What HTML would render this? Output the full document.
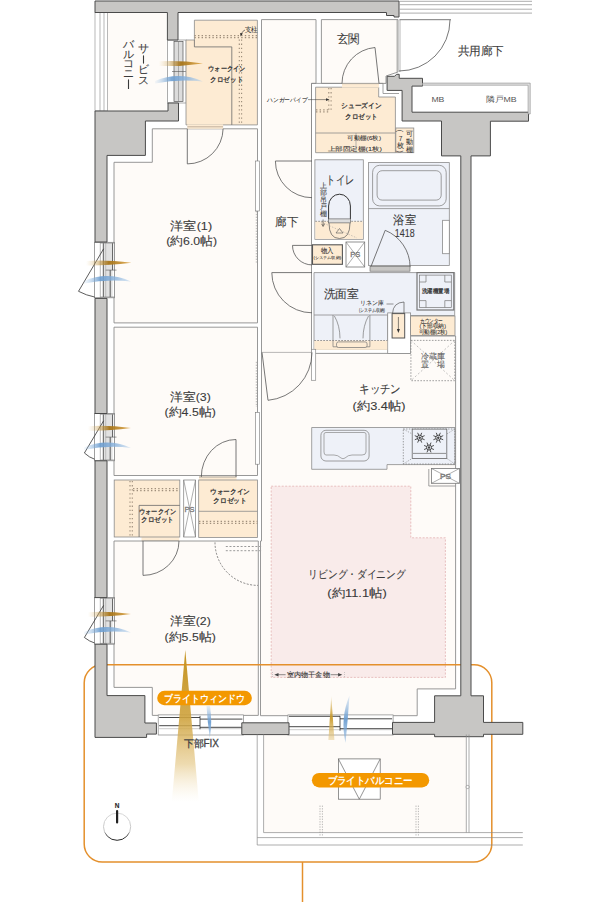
<!DOCTYPE html>
<html lang="ja">
<head>
<meta charset="utf-8">
<style>
html,body{margin:0;padding:0;background:#fff;}
body{width:610px;height:902px;overflow:hidden;font-family:"Liberation Sans",sans-serif;}
svg{display:block;}
text{font-family:"Liberation Sans",sans-serif;}
</style>
</head>
<body>
<svg width="610" height="902" viewBox="0 0 610 902">
<defs>
  <linearGradient id="beamV" x1="0" y1="0" x2="0" y2="1">
    <stop offset="0" stop-color="#c4921f" stop-opacity="1"/>
    <stop offset="0.45" stop-color="#cfa33e" stop-opacity="0.9"/>
    <stop offset="0.75" stop-color="#e2c27a" stop-opacity="0.6"/>
    <stop offset="1" stop-color="#f6e8c8" stop-opacity="0"/>
  </linearGradient>
  <linearGradient id="beamS" x1="0" y1="0" x2="0" y2="1">
    <stop offset="0" stop-color="#d0a63f" stop-opacity="0.2"/>
    <stop offset="0.5" stop-color="#c99a2a" stop-opacity="0.95"/>
    <stop offset="1" stop-color="#e5c886" stop-opacity="0.5"/>
  </linearGradient>
  <linearGradient id="windBV" x1="0" y1="0" x2="0" y2="1">
    <stop offset="0" stop-color="#a9c8e8" stop-opacity="0.3"/>
    <stop offset="0.5" stop-color="#6b9dd0" stop-opacity="0.95"/>
    <stop offset="1" stop-color="#8db5de" stop-opacity="0.5"/>
  </linearGradient>
  <linearGradient id="windG" x1="0" y1="0" x2="1" y2="0">
    <stop offset="0" stop-color="#e9c98a" stop-opacity="0"/>
    <stop offset="0.5" stop-color="#a67418" stop-opacity="0.95"/>
    <stop offset="1" stop-color="#e0a84a" stop-opacity="0.9"/>
  </linearGradient>
  <linearGradient id="windB" x1="0" y1="0" x2="1" y2="0">
    <stop offset="0" stop-color="#9fc3e6" stop-opacity="0.1"/>
    <stop offset="0.35" stop-color="#6b9dd0" stop-opacity="0.9"/>
    <stop offset="0.7" stop-color="#8db5de" stop-opacity="0.8"/>
    <stop offset="1" stop-color="#b9d3ec" stop-opacity="0.5"/>
  </linearGradient>
  <linearGradient id="compass" x1="0" y1="0" x2="0" y2="1">
    <stop offset="0" stop-color="#d8d8d8"/>
    <stop offset="0.68" stop-color="#c4c4c4"/>
    <stop offset="0.8" stop-color="#555"/>
    <stop offset="1" stop-color="#222"/>
  </linearGradient>
</defs>

<!-- ============ FLOORS ============ -->
<g id="floors" fill="#fefbf8" stroke="#8c8c8c" stroke-width="0.9">
  <rect x="107.5" y="13" width="59" height="98" stroke="none"/>
  <polygon points="152.3,128.8 257.5,128.8 257.5,322.9 114,322.9 114,162.3 152.3,162.3"/>
  <polygon points="114,327.2 257.5,327.2 257.5,475.5 114,475.5"/>
  <polygon points="114,541 258.3,541 258.3,715.4 152.3,715.4 152.3,687.4 114,687.4"/>
  <polygon points="261.5,19.6 316,19.6 316,83.4 311.5,83.4 311.5,353.4 410.6,353.4 410.6,336 455.6,336 455.6,688.9 417.2,688.9 417.2,715.7 260.5,715.7 260.5,541 261.5,541"/>
  <polygon points="321.4,19.6 398,19.6 398,72 386,76 386,83.4 321.4,83.4"/>
  <!-- balcony floor -->
  <rect x="264" y="734.5" width="202" height="98" fill="#fefbf8" stroke="none"/>
</g>


<g stroke-width="0.8">
  <polygon points="271.2,486.2 410.8,486.2 410.8,537.8 445.4,537.8 445.4,677.4 271.2,677.4" fill="#f9ebea" stroke="#e3b3b3" stroke-dasharray="2 1.5"/>
</g>
<!-- ============ ORANGE OUTLINE ============ -->
<g fill="none" stroke="#e4902c" stroke-width="1.5">
  <path d="M102.5,664.8 H474 A17.8,17.8 0 0 1 491.8,682.6 V844 A18,18 0 0 1 473.8,862 H102.2 A18,18 0 0 1 84.2,844 V682.8 A18,18 0 0 1 102.5,664.8 Z"/>
  <line x1="302.5" y1="862" x2="302.5" y2="902"/>
</g>

<!-- ============ WINDOWS ============ -->
<g id="windows">
  <g>
    <rect x="94.6" y="242.3" width="20" height="55.5" fill="#fff" stroke="#777" stroke-width="0.7"/>
    <rect x="103.4" y="243.1" width="9.2" height="53.9" fill="#e2e2e2" stroke="none"/>
    <line x1="100.3" y1="242.3" x2="100.3" y2="297.8" stroke="#888" stroke-width="0.6"/>
    <line x1="103.3" y1="243.1" x2="103.3" y2="297.0" stroke="#333" stroke-width="0.8"/>
    <line x1="105.7" y1="243.1" x2="105.7" y2="297.0" stroke="#999" stroke-width="0.5"/>
    <line x1="112.6" y1="243.1" x2="112.6" y2="270.1" stroke="#333" stroke-width="0.8"/>
    <line x1="110.2" y1="270.1" x2="110.2" y2="297.0" stroke="#333" stroke-width="0.8"/>
    <line x1="105.7" y1="270.1" x2="116.5" y2="270.1" stroke="#555" stroke-width="0.6"/>
    <line x1="100.3" y1="243.1" x2="114.6" y2="243.1" stroke="#777" stroke-width="0.6"/>
    <line x1="100.3" y1="297.0" x2="114.6" y2="297.0" stroke="#777" stroke-width="0.6"/>
    <path d="M103.6,248.8 L78.5,291.3 Q86.5,295.5 94.6,297" fill="none" stroke="#333" stroke-width="0.8"/>
  </g>
  <g>
    <rect x="94.6" y="413.5" width="20" height="47.3" fill="#fff" stroke="#777" stroke-width="0.7"/>
    <rect x="103.4" y="414.3" width="9.2" height="45.7" fill="#e2e2e2" stroke="none"/>
    <line x1="100.3" y1="413.5" x2="100.3" y2="460.8" stroke="#888" stroke-width="0.6"/>
    <line x1="103.3" y1="414.3" x2="103.3" y2="460.0" stroke="#333" stroke-width="0.8"/>
    <line x1="105.7" y1="414.3" x2="105.7" y2="460.0" stroke="#999" stroke-width="0.5"/>
    <line x1="112.6" y1="414.3" x2="112.6" y2="437.1" stroke="#333" stroke-width="0.8"/>
    <line x1="110.2" y1="437.1" x2="110.2" y2="460.0" stroke="#333" stroke-width="0.8"/>
    <line x1="105.7" y1="437.1" x2="116.5" y2="437.1" stroke="#555" stroke-width="0.6"/>
    <line x1="100.3" y1="414.3" x2="114.6" y2="414.3" stroke="#777" stroke-width="0.6"/>
    <line x1="100.3" y1="460.0" x2="114.6" y2="460.0" stroke="#777" stroke-width="0.6"/>
    <path d="M103.6,420.8 L84.4,453 Q89.5,457.7 94.6,459.2" fill="none" stroke="#333" stroke-width="0.8"/>
  </g>
  <g>
    <rect x="94.6" y="597.6" width="20" height="46.6" fill="#fff" stroke="#777" stroke-width="0.7"/>
    <rect x="103.4" y="598.4" width="9.2" height="45.0" fill="#e2e2e2" stroke="none"/>
    <line x1="100.3" y1="597.6" x2="100.3" y2="644.2" stroke="#888" stroke-width="0.6"/>
    <line x1="103.3" y1="598.4" x2="103.3" y2="643.4" stroke="#333" stroke-width="0.8"/>
    <line x1="105.7" y1="598.4" x2="105.7" y2="643.4" stroke="#999" stroke-width="0.5"/>
    <line x1="112.6" y1="598.4" x2="112.6" y2="620.9" stroke="#333" stroke-width="0.8"/>
    <line x1="110.2" y1="620.9" x2="110.2" y2="643.4" stroke="#333" stroke-width="0.8"/>
    <line x1="105.7" y1="620.9" x2="116.5" y2="620.9" stroke="#555" stroke-width="0.6"/>
    <line x1="100.3" y1="598.4" x2="114.6" y2="598.4" stroke="#777" stroke-width="0.6"/>
    <line x1="100.3" y1="643.4" x2="114.6" y2="643.4" stroke="#777" stroke-width="0.6"/>
    <path d="M103.6,605.4 L84.4,637.5 Q89.5,641.5 94.6,643" fill="none" stroke="#333" stroke-width="0.8"/>
  </g>
  <!-- service balcony rail (left) -->
  <g stroke="#9a9a9a" stroke-width="0.7" fill="none">
    <rect x="95" y="12.5" width="12.5" height="98.5" fill="#fff"/>
    <line x1="100" y1="12.5" x2="100" y2="111"/>
    <line x1="104" y1="12.5" x2="104" y2="111"/>
  </g>
  <!-- service balcony window -->
  <rect x="167.4" y="40" width="18.8" height="63" fill="#fff" stroke="#8a8a8a" stroke-width="0.7"/>
  <rect x="174" y="41.5" width="9" height="60" fill="#dcdcdc" stroke="#555" stroke-width="0.7"/>
  <line x1="178.5" y1="41.5" x2="178.5" y2="101.5" stroke="#777" stroke-width="0.5"/>
  <line x1="172" y1="71.5" x2="186" y2="71.5" stroke="#555" stroke-width="0.6"/>
  <!-- bottom windows -->
  <g>
    <rect x="158.2" y="714.9" width="85.2" height="20.1" fill="#fff" stroke="#888" stroke-width="0.7"/>
    <path d="M159.2,717.5 H200 M159.2,725.7 H200" stroke="#333" stroke-width="0.9"/>
    <path d="M200,719.1 H242.4 M200,727.3 H242.4" stroke="#333" stroke-width="0.9"/>
    <path d="M159.2,728.7 H242.4" stroke="#aaa" stroke-width="0.6"/>
    <line x1="200" y1="715.9" x2="200" y2="729.3" stroke="#333" stroke-width="0.8"/>
  </g>
  <g>
    <rect x="287.9" y="714.9" width="105.2" height="20.1" fill="#fff" stroke="#888" stroke-width="0.7"/>
    <path d="M288.9,716.3 H340 M288.9,726.7 H340" stroke="#333" stroke-width="0.9"/>
    <path d="M340,718.8 H392.1 M340,728.7 H392.1" stroke="#333" stroke-width="0.9"/>
    <path d="M288.9,729.7 H392.1" stroke="#aaa" stroke-width="0.6"/>
    <line x1="340" y1="715.9" x2="340" y2="730.7" stroke="#333" stroke-width="0.8"/>
  </g>
</g>

<!-- ============ WALLS ============ -->
<g id="walls" fill="#c7c6c4" stroke="#4a4a4a" stroke-width="1">
  <!-- top wall -->
  <polygon points="95,1 399,1 399,17 394,17 394,15.5 386.5,15.5 386.5,12.5 178,12.5 178,40 167.4,40 167.4,12.5 95,12.5"/>
  <!-- block under service balcony + left wall -->
  <polygon points="95,111 168,111 168,103 178.5,103 178.5,121 145.4,121 145.4,155.4 107,155.4 107,242 95,242"/>
  <polygon points="95,298.4 107,298.4 107,413.5 95,413.5"/>
  <polygon points="95,460.8 107,460.8 107,597.6 95,597.6"/>
  <polygon points="95,644.2 107,644.2 107,695.6 144.9,695.6 144.9,723 156.4,723 156.4,734.1 146.6,734.1 146.6,737.4 95,737.4"/>
  <!-- bottom wall segment between windows -->
  <polygon points="241.8,722.8 289,722.8 289,734.6 241.8,734.6"/>
  <!-- bottom wall right + pillar -->
  <polygon points="392.5,722.4 434.6,722.4 434.6,695.8 460.8,695.8 460.8,155.9 441.5,155.9 441.5,121 402.1,121 402.1,90.4 387.1,90.4 387.1,76.3 394.6,76.3 396.5,74.3 399.2,74.3 399.2,78.3 422.5,78.3 422.5,86.1 412,86.1 412,112.2 528.5,112.2 528.5,121.2 490.4,121.2 490.4,155.9 471,155.9 471,695.8 483.5,695.8 483.5,722.4 522.8,722.4 522.8,734.3 483.5,734.3 483.5,736.7 434.6,736.7 434.6,734.3 392.5,734.3"/>
</g>


<!-- ============ COLORED ZONES ============ -->
<g id="zones" stroke="#8a8a8a" stroke-width="0.8">
  <!-- WIC top -->
  <polygon points="194.4,20.2 257.4,20.2 257.4,124.9 186,124.9 186,40 194.4,40" fill="#fdebd3"/>
  <polyline points="194.4,40 194.4,46.9 231.8,46.9 231.8,124.9" fill="none" stroke="#6a6a6a"/>
  <!-- shoes closet -->
  <polyline points="311.5,158 311.5,83.4 342,83.4" fill="none"/>
  <polyline points="379,83.4 383,83.4 383,93.5 399,93.5" fill="none"/>
  <polygon points="315.6,87.2 378.7,87.2 378.7,97 395.4,97 395.4,152.7 315.6,152.7" fill="#fdebd3"/>
  <line x1="315.6" y1="133" x2="395.4" y2="133"/>
  <line x1="356" y1="133" x2="356" y2="152.7" stroke-width="0.6"/>
  <rect x="395.8" y="128" width="18" height="24.7" fill="#fdebd3"/>
  <!-- toilet -->
  <rect x="314.9" y="159.8" width="48.4" height="79.5" fill="#eef1f8"/>
  <rect x="315.3" y="221.3" width="47.6" height="17.6" fill="#fdebd3" stroke="none"/>
  <line x1="315.3" y1="221.3" x2="363" y2="221.3" stroke="#777" stroke-dasharray="1.6 1.4"/>
  <!-- bathroom -->
  <rect x="368.5" y="162.6" width="80.8" height="102.8" fill="#eef1f8"/>
  <rect x="372.6" y="165.3" width="73.6" height="40.6" rx="7" fill="#eef1f8" stroke="#888"/>
  <rect x="377.1" y="170.7" width="64.1" height="29.4" rx="5" fill="#eef1f8" stroke="#888"/>
  <line x1="368.5" y1="208.6" x2="449.3" y2="208.6"/>
  <rect x="442.6" y="220.3" width="6.7" height="33.4" fill="#fff"/>
  <!-- monoire / PS -->
  <rect x="312.5" y="244.8" width="29.9" height="19.5" fill="#fdebd3" stroke="#555" stroke-width="1.1"/>
  <rect x="346" y="242" width="18.7" height="25" fill="#fff" stroke="#777"/>
  <path d="M346,242 L364.7,267 M364.7,242 L346,267" stroke="#777" stroke-width="0.6"/>
  <!-- washroom -->
  <polygon points="314,272.6 454.7,272.6 454.7,315.5 387.7,315.5 387.7,349.3 314,349.3" fill="#eef1f8"/>
  <rect x="387.7" y="312.9" width="22.9" height="40.5" fill="#fff"/>
  <rect x="392.1" y="313.6" width="12.6" height="24.4" fill="#fdebd3" stroke="#555" stroke-width="1"/>
  <rect x="410.6" y="316" width="44.4" height="19.5" fill="#fdebd3"/>
  <!-- vanity -->
  <rect x="314.3" y="340.5" width="73" height="9.3" fill="#fdebd3" stroke="none"/>
  <line x1="314.3" y1="340.5" x2="387.3" y2="340.5" stroke="#777" stroke-dasharray="1.6 1.4"/>
  <line x1="314" y1="315" x2="387.7" y2="315"/>
  <path d="M333,315 V346.8 H369.9 V315" fill="none" stroke="#777" stroke-width="0.7"/>
  <path d="M334.4,316 C338,322 340,330 340,338.4 M368.5,316 C365,322 363,330 363,338.4" fill="none" stroke="#777" stroke-width="0.7"/>
  <rect x="336.5" y="341.9" width="30.6" height="5.6" rx="2" fill="#fdebd3" stroke="#777" stroke-width="0.7"/>
  <!-- washer area -->
  <rect x="417" y="272.6" width="36.8" height="37.4" fill="#eef1f8" stroke="#777" stroke-width="1.2"/>
  <rect x="419.5" y="275.1" width="31.8" height="32.4" fill="#eef1f8" stroke="#777" stroke-width="0.7"/>
  <!-- fridge -->
  <rect x="410.9" y="340.4" width="43.9" height="40.3" fill="#fefbf8" stroke="#888" stroke-dasharray="1.6 1.4"/>
  <path d="M410.9,340.4 L454.8,380.7 M454.8,340.4 L410.9,380.7" stroke="#999" stroke-width="0.6" stroke-dasharray="2 2"/>
  <!-- kitchen counter -->
  <polygon points="311.7,427.5 455,427.5 455,464.6 387,464.6 387,469.3 311.7,469.3" fill="#eef1f8"/>
  <rect x="320.9" y="430.3" width="48.2" height="30.7" rx="5" fill="#eef1f8" stroke="#888"/>
  <path d="M324,434 Q324,432.5 326,432.5 H364 Q366,432.5 366,434 V452 Q366,455 362,455 H352 Q348,455 345,458 Q343,459.5 341,458 Q338,455 334,455 H326 Q324,455 324,452 Z" fill="#eef1f8" stroke="#888" stroke-width="0.7"/>
  <rect x="403.3" y="429" width="51.5" height="35" fill="none" stroke="#777" stroke-dasharray="1.4 1.4" stroke-width="0.7"/>
  <rect x="412.2" y="429.1" width="34.6" height="29.3" fill="#eef1f8" stroke="#666"/>
  <line x1="413" y1="453.4" x2="446" y2="453.4" stroke="#666" stroke-width="0.7"/>
  <!-- kitchen PS -->
  <polyline points="428.8,469 428.8,486 455.6,486" fill="none"/>
  <rect x="431.5" y="468.5" width="27.9" height="14.8" fill="#fff" stroke="#777"/>
  <path d="M431.5,468.5 L459.4,483.3 M459.4,468.5 L431.5,483.3" stroke="#777" stroke-width="0.6"/>
  <!-- LD pink -->
  <!-- door thresholds -->
  <rect x="187.3" y="124.4" width="35.8" height="4.4" fill="#fdebd3" stroke="none"/>
  <line x1="187.3" y1="126.8" x2="223.1" y2="126.8" stroke="#9a8a78" stroke-width="0.6"/>
  <rect x="199" y="476.3" width="37.5" height="4.2" fill="#fdebd3" stroke="none"/>
  <line x1="199" y1="477" x2="236.5" y2="477" stroke="#8a8a8a" stroke-width="0.7"/>
  <rect x="141.5" y="536.5" width="37.8" height="4.5" fill="#fdebd3" stroke="none"/>
  <line x1="141.5" y1="540.6" x2="179.3" y2="540.6" stroke="#8a8a8a" stroke-width="0.7"/>
  <rect x="342" y="83.2" width="37" height="4.4" fill="#fdebd3" stroke="none"/>
  <line x1="342" y1="83.6" x2="379" y2="83.6" stroke="#8a8a8a" stroke-width="0.7"/>
  <!-- WIC bottom left -->
  <rect x="114.2" y="480" width="65.6" height="57" fill="#fdebd3"/>
  <polyline points="139.1,537 139.1,505.4 179.8,505.4" fill="none" stroke="#6a6a6a"/>
  <!-- PS (wic) -->
  <rect x="183.7" y="480" width="11.8" height="57" fill="#fff"/>
  <path d="M183.7,480 L195.5,537 M195.5,480 L183.7,537" stroke="#777" stroke-width="0.6"/>
  <!-- WIC bottom right -->
  <rect x="198.7" y="480" width="58.7" height="57.4" fill="#fdebd3"/>
  <line x1="198.7" y1="511.3" x2="257.4" y2="511.3"/>
</g>


<!-- ============ DOORS ============ -->
<g id="doors" fill="none" stroke="#555" stroke-width="0.8">
  <!-- front door -->
  <line x1="397" y1="20" x2="397" y2="72" stroke="#888" stroke-width="0.6"/>
  <line x1="400" y1="20" x2="400" y2="72" stroke="#888" stroke-width="0.6"/>
  <path d="M399,71 A51,51 0 0 0 450,20"/>
  <!-- genkan -> shoes closet -->
  <path d="M379,83.4 L375,47.5 M375,47.5 A36,36 0 0 0 342,83.4"/>
  <!-- WIC (room1) -->
  <path d="M187.3,128.8 V163.9 A35.8,35.8 0 0 0 223.1,128.8"/>
  <!-- toilet -->
  <path d="M312,161 H275.4 A36.6,36.6 0 0 0 312,197.7"/>
  <!-- monoire -->
  <path d="M312,245.4 H292.5 A19.5,19.5 0 0 0 312,264.9"/>
  <!-- washroom -->
  <path d="M312,272.6 H271.8 A40.2,40.2 0 0 0 312,312.8"/>
  <!-- wall stub -->
  <rect x="311.5" y="349.3" width="4.2" height="31" fill="#fff" stroke="#8a8a8a" stroke-width="0.7"/>
  <!-- kitchen door -->
  <path d="M262,352.4 L268,400.3 A48.3,48.3 0 0 0 312,352.4"/>
  <line x1="262" y1="352.4" x2="312" y2="352.4" stroke="#888" stroke-width="0.6"/>
  <!-- room3 door -->
  <path d="M236,477 V439.5 A34.7,37.5 0 0 0 201.3,477"/>
  <!-- room2 WIC door -->
  <path d="M143,541 V575.4 A36,34.4 0 0 0 179,541"/>
  <!-- room2 dashed arc -->
  <path d="M215,542.4 A43,43 0 0 0 258,585.4" stroke-dasharray="2 1.5" stroke-width="0.7"/>
  <!-- bathroom folding door -->
  <path d="M370.8,267 L385.2,230.3 A40,40 0 0 1 410.1,267.2" stroke-width="0.8"/>
  <rect x="370" y="266.3" width="40" height="4.9" fill="#c7c6c4" stroke="#666" stroke-width="0.6"/>
  <!-- linen door -->
  <path d="M392.5,313.6 Q393,302.5 404,302 V313.6" stroke-width="0.7"/>
  <!-- sliding doors hall -->
  <rect x="255.7" y="161" width="3.6" height="50" fill="#fff" stroke="#777" stroke-width="0.6"/>
  <line x1="256.3" y1="211" x2="256.3" y2="262.6" stroke="#888" stroke-dasharray="1.4 1.4" stroke-width="0.6"/>
  <rect x="255.7" y="412.3" width="3.6" height="51.9" fill="#fff" stroke="#777" stroke-width="0.6"/>
  <line x1="256.3" y1="361.8" x2="256.3" y2="407" stroke="#888" stroke-dasharray="1.4 1.4" stroke-width="0.6"/>
</g>

<!-- ============ CORRIDOR / BALCONY ============ -->
<g id="outside" fill="none" stroke="#8a8a8a" stroke-width="0.7">
  <line x1="399.5" y1="1.3" x2="532" y2="1.3"/>
  <line x1="399.5" y1="4.7" x2="532" y2="4.7"/>
  <line x1="399.5" y1="9.2" x2="532" y2="9.2"/>
  <line x1="399.5" y1="13.1" x2="532" y2="13.1"/>
  <line x1="399.5" y1="19.7" x2="451" y2="19.7" stroke="#555" stroke-width="0.8"/>
  <!-- MB box -->
  <path d="M422.5,83.1 H530.2 V114 H528.1 V85.2 H422.5 Z" fill="#e2e2e2" stroke="#888" stroke-width="0.6"/>
  <!-- balcony -->
  <line x1="257.2" y1="734.5" x2="257.2" y2="845"/>
  <line x1="263.6" y1="734.5" x2="263.6" y2="832.6"/>
  <line x1="263.6" y1="832.6" x2="522.8" y2="832.6"/>
  <line x1="257.2" y1="837.6" x2="522.8" y2="837.6"/>
  <line x1="257.2" y1="845" x2="522.8" y2="845"/>
  <line x1="466.3" y1="734.5" x2="466.3" y2="832.6"/>
  <line x1="469" y1="734.5" x2="469" y2="832.6"/>
  <circle cx="467.6" cy="787" r="1.6" fill="#fff"/>
  <!-- hatch -->
  <rect x="338.4" y="758.9" width="41.8" height="40.3" fill="#fff" stroke="#666"/>
  <path d="M338.4,758.9 L359.3,799.2 L380.2,758.9" stroke="#666"/>
  <!-- dotted posts -->
  <path d="M320,805.6 V836.6 M322.4,805.6 V836.6 M416,805.6 V836.6 M418.4,805.6 V836.6" stroke-dasharray="1.3 1.3" stroke-width="0.6"/>
</g>




<!-- ============ FIXTURES / DETAILS ============ -->
<g id="details" fill="none" stroke="#777" stroke-width="0.7">
  <!-- WIC top dotted -->
  <path d="M194.4,35.6 H257.4 M194.4,37.6 H257.4" stroke="#a08f7c" stroke-width="1.2" stroke-dasharray="1.4 2.2"/>
  <path d="M239.3,39.5 V124.9 M241.60000000000002,39.5 V124.9" stroke="#9a8a78" stroke-width="1.1" stroke-dasharray="1.3 2.8"/>
  <!-- 支柱 leader -->
  <path d="M245,30 Q242.5,31 241.6,33.5" stroke="#333" stroke-width="0.6"/><path d="M240.2,33 L242.8,33.6 L240.6,36.5 Z" fill="#222" stroke="none"/>
  <!-- shoes closet hanger -->
  <path d="M328.8,88 V110 M331.1,88 V110" stroke="#9a8a78" stroke-width="1.1" stroke-dasharray="1.3 2.8"/>
  <path d="M316,109.8 H330 M316,111.8 H330" stroke="#a08f7c" stroke-width="1.2" stroke-dasharray="1.4 2.2"/>
  <line x1="308" y1="99.6" x2="328" y2="99.6" stroke="#333" stroke-width="0.5"/>
  <path d="M326,98.3 L329.5,99.6 L326,100.9 Z" fill="#333" stroke="none"/>
  <!-- toilet bowl -->
  <path d="M328.6,219 V206 A10.9,11.8 0 0 1 350.4,206 V219" stroke="#333" stroke-width="1"/>
  <rect x="328.4" y="218.9" width="22" height="4" fill="#ddd" stroke="#555" stroke-width="0.6"/>
  <path d="M329,223 Q329,238.5 339.5,238.5 Q350,238.5 350,223" stroke="#555" stroke-width="0.7"/>
  <path d="M336,233 L339.5,228.5 L343,233 Z" stroke="#555" stroke-width="0.6"/>
  <path d="M321,222 L357,238" stroke="#999" stroke-dasharray="1.5 1.5" stroke-width="0.5"/>
  <!-- washer corners -->
  <path d="M419.5,282 H426 V275.1 M444.8,275.1 V282 H451.3 M451.3,300.6 H444.8 V307.5 M426,307.5 V300.6 H419.5" stroke="#777" stroke-width="0.7"/>
  <!-- linen arrow -->
  <line x1="398.4" y1="317" x2="398.4" y2="331" stroke="#333" stroke-width="0.6"/>
  <path d="M396.9,329 L398.4,333 L399.9,329 Z" fill="#333" stroke="none"/>
  <line x1="386.5" y1="304" x2="393.5" y2="304" stroke="#333" stroke-width="0.5"/>
  <!-- burners -->
  <g stroke="#3a3a3a" stroke-width="0.9">
    <circle cx="419.7" cy="437.7" r="2.5" fill="none"/><path d="M422.01,438.66 L424.60,439.73 M420.66,440.01 L421.73,442.60 M418.74,440.01 L417.67,442.60 M417.39,438.66 L414.80,439.73 M417.39,436.74 L414.80,435.67 M418.74,435.39 L417.67,432.80 M420.66,435.39 L421.73,432.80 M422.01,436.74 L424.60,435.67 "/><circle cx="419.7" cy="437.7" r="1.2" fill="#444" stroke="none"/>
    <circle cx="438.3" cy="437.7" r="2.5" fill="none"/><path d="M440.61,438.66 L443.20,439.73 M439.26,440.01 L440.33,442.60 M437.34,440.01 L436.27,442.60 M435.99,438.66 L433.40,439.73 M435.99,436.74 L433.40,435.67 M437.34,435.39 L436.27,432.80 M439.26,435.39 L440.33,432.80 M440.61,436.74 L443.20,435.67 "/><circle cx="438.3" cy="437.7" r="1.2" fill="#444" stroke="none"/>
    <circle cx="429" cy="447.5" r="2.5" fill="none"/><path d="M431.31,448.46 L433.90,449.53 M429.96,449.81 L431.03,452.40 M428.04,449.81 L426.97,452.40 M426.69,448.46 L424.10,449.53 M426.69,446.54 L424.10,445.47 M428.04,445.19 L426.97,442.60 M429.96,445.19 L431.03,442.60 M431.31,446.54 L433.90,445.47 "/><circle cx="429" cy="447.5" r="1.2" fill="#444" stroke="none"/>
  </g>
  <path d="M403.3,429 L412.2,434 M454.8,429 L446.8,434 M403.3,464 L412.2,458.4 M454.8,464 L446.8,458.4" stroke="#777" stroke-dasharray="1.3 1.3" stroke-width="0.6"/>
  <!-- WIC bottom dotted -->
  <path d="M130,481 V537 M132.3,481 V537" stroke="#9a8a78" stroke-width="1.1" stroke-dasharray="1.3 2.8"/>
  <path d="M133,488.7 H179.8 M133,490.7 H179.8" stroke="#a08f7c" stroke-width="1.2" stroke-dasharray="1.4 2.2"/>
  <path d="M199,521.4 H257.4 M199,523.4 H257.4" stroke="#a08f7c" stroke-width="1.2" stroke-dasharray="1.4 2.2"/>
  <path d="M225.8,546.5 H261.6 M225.8,550.7 H261.6" stroke="#9a9a9a" stroke-width="1" stroke-dasharray="2 1.7"/>
  <!-- room2 right double line -->
</g>

<g stroke="#444" stroke-width="0.6" fill="none">
  <path d="M278,674.7 H285.6 M330.6,674.7 H338.5"/>
  <path d="M274.3,674.7 L278.5,673 L278.5,676.4 Z M342.3,674.7 L338.1,673 L338.1,676.4 Z" fill="#444" stroke="none"/>
  <path d="M272.5,672 V677 M344.5,672 V677" stroke="#aaa" stroke-dasharray="1 1"/>
</g>
<!-- ============ BEAMS / WIND ============ -->
<g id="beams">
  <polygon points="185.3,650 198.8,802 171.8,802" fill="url(#beamV)"/>
  <path d="M328.4,740 L331.3,696 L334.4,740 Z" fill="url(#beamS)"/>
</g>
<g id="wind">
  <!-- left windows gold -->
  <path d="M86,261 Q105,259.5 131.5,262.8 Q105,266 86,265.5 Z" fill="url(#windG)"/>
  <path d="M88,426.2 Q107,424.7 131,428 Q107,431.2 88,430.7 Z" fill="url(#windG)"/>
  <path d="M88,612.2 Q107,610.7 131,614 Q107,617.2 88,616.7 Z" fill="url(#windG)"/>
  <path d="M158.7,61.3 Q180,60 203,63.4 Q180,66.6 158.7,66 Z" fill="url(#windG)"/>
  <!-- blue waves -->
  <path d="M84,281 Q107.5,271 131,281.5 Q107.5,278.5 84,283.5 Z" fill="url(#windB)"/>
  <path d="M84,447.4 Q107.5,437.4 131,447.9 Q107.5,444.9 84,449.9 Z" fill="url(#windB)"/>
  <path d="M84,632 Q107.5,622 131,632.5 Q107.5,629.5 84,634.5 Z" fill="url(#windB)"/>
  <path d="M155,81 Q179.0,71 203,81.5 Q179.0,78.5 155,83.5 Z" fill="url(#windB)"/>
  <path d="M206.5,706 Q207.5,722 209.8,738 Q212.5,722 210,706 Z" fill="url(#windBV)"/>
  <path d="M349.5,695.5 Q340,718 345.5,743 Q348,718 349.5,695.5 Z" fill="url(#windBV)"/>
</g>

<!-- ============ PILLS ============ -->
<g>
  <rect x="157.2" y="690.8" width="94.7" height="14.4" rx="7.2" fill="#f39800"/>
  <rect x="311.9" y="773" width="117.3" height="14.4" rx="7.2" fill="#f39800"/>
  <g text-anchor="middle" dominant-baseline="central" font-weight="bold" fill="#fff">
    <text x="204.5" y="698" font-size="9.5" fill="#fff" textLength="80.3" lengthAdjust="spacingAndGlyphs">ブライトウィンドウ</text>
    <text x="370" y="780.3" font-size="9.5" fill="#fff" textLength="85" lengthAdjust="spacingAndGlyphs">ブライトバルコニー</text>
  </g>
</g>

<!-- ============ COMPASS ============ -->
<g>
  <circle cx="117.1" cy="826.7" r="13.6" fill="none" stroke="url(#compass)" stroke-width="1"/>
  <line x1="117.1" y1="811" x2="117.1" y2="822.5" stroke="#222" stroke-width="2.2" stroke-linecap="round"/>
</g>

<!-- ============ VERTICAL TEXT ============ -->
<g text-anchor="middle" dominant-baseline="central" fill="#3a3a3a" stroke="#3a3a3a" stroke-width="0.1">
  <text x="143.2" y="48" font-size="10.8">サ</text>
  <line x1="143.5" y1="55.4" x2="143.5" y2="63.6" stroke-width="1.1"/>
  <text x="143.2" y="69.4" font-size="10.8">ビ</text>
  <text x="143.2" y="80.2" font-size="10.8">ス</text>
  <text x="128.7" y="44" font-size="10.8">バ</text>
  <text x="128.7" y="53.5" font-size="10.8">ル</text>
  <text x="128.7" y="63" font-size="10.8">コ</text>
  <text x="128.7" y="72.6" font-size="10.8">ニ</text>
  <line x1="128.5" y1="79.4" x2="128.5" y2="89" stroke-width="1.1"/>
  <text stroke-width="0.08" x="323.1" y="185.4" font-size="6.6">上</text>
  <text stroke-width="0.08" x="323.1" y="192.3" font-size="6.6">部</text>
  <text stroke-width="0.08" x="323.1" y="199.2" font-size="6.6">吊</text>
  <text stroke-width="0.08" x="323.1" y="206.1" font-size="6.6">戸</text>
  <text stroke-width="0.08" x="323.1" y="213" font-size="6.6">棚</text>
  <text x="400.6" y="130.8" font-size="6.6" transform="rotate(90 400.6 130.8)">(</text>
  <text stroke-width="0.08" x="400.6" y="138.2" font-size="6.6">7</text>
  <text stroke-width="0.08" x="400.6" y="145.5" font-size="6.6">枚</text>
  <text x="400.6" y="151.5" font-size="6.6" transform="rotate(90 400.6 151.5)">)</text>
  <text stroke-width="0.08" x="409.5" y="133.8" font-size="6.6">可</text>
  <text stroke-width="0.08" x="409.5" y="141.6" font-size="6.6">動</text>
  <text stroke-width="0.08" x="409.5" y="149.4" font-size="6.6">棚</text>
</g>
<path d="M323.1,219.5 V225.5 M321.6,223.8 L323.1,226.5 L324.6,223.8" fill="none" stroke="#333" stroke-width="0.6"/>

<!-- ============ TEXT ============ -->
<g text-anchor="middle" dominant-baseline="central" fill="#3a3a3a" stroke="#3a3a3a" stroke-width="0.1">
  <text x="191.2" y="225.8" font-size="11.5" textLength="41.8" lengthAdjust="spacingAndGlyphs">洋室(1)</text>
  <text x="191.6" y="241" font-size="11.5" textLength="50.8" lengthAdjust="spacingAndGlyphs">(約6.0帖)</text>
  <text x="190.4" y="397" font-size="11.5" textLength="40.7" lengthAdjust="spacingAndGlyphs">洋室(3)</text>
  <text x="190.2" y="412.4" font-size="11.5" textLength="51.2" lengthAdjust="spacingAndGlyphs">(約4.5帖)</text>
  <text x="190.4" y="620.5" font-size="11.5" textLength="40.7" lengthAdjust="spacingAndGlyphs">洋室(2)</text>
  <text x="190.2" y="637.4" font-size="11.5" textLength="51.2" lengthAdjust="spacingAndGlyphs">(約5.5帖)</text>
  <text x="286.7" y="222" font-size="11.5" textLength="23" lengthAdjust="spacingAndGlyphs">廊下</text>
  <text x="348.4" y="39.3" font-size="11.5" textLength="22.9" lengthAdjust="spacingAndGlyphs">玄関</text>
  <text x="480.8" y="50.8" font-size="11.5" textLength="46.6" lengthAdjust="spacingAndGlyphs">共用廊下</text>
  <text x="340.4" y="180.3" font-size="11.5" textLength="28" lengthAdjust="spacingAndGlyphs">トイレ</text>
  <text x="404.7" y="220.3" font-size="11.5" textLength="22.5" lengthAdjust="spacingAndGlyphs">浴室</text>
  <text x="404.7" y="233" font-size="11" textLength="19.8" lengthAdjust="spacingAndGlyphs">1418</text>
  <text x="341.2" y="293.5" font-size="12" textLength="35.4" lengthAdjust="spacingAndGlyphs">洗面室</text>
  <text x="380" y="389.4" font-size="11.5" textLength="41.5" lengthAdjust="spacingAndGlyphs">キッチン</text>
  <text x="379" y="405.6" font-size="11.5" textLength="52.8" lengthAdjust="spacingAndGlyphs">(約3.4帖)</text>
  <text x="357" y="573.9" font-size="11" textLength="97.4" lengthAdjust="spacingAndGlyphs">リビング・ダイニング</text>
  <text x="357" y="593.3" font-size="11.5" textLength="59.5" lengthAdjust="spacingAndGlyphs">(約11.1帖)</text>
</g>
<g text-anchor="middle" dominant-baseline="central" fill="#333" stroke="#333" stroke-width="0.28">
  <text x="226.7" y="68.8" font-size="7" textLength="37" lengthAdjust="spacingAndGlyphs">ウォークイン</text>
  <text x="226.7" y="79.9" font-size="7" textLength="32.7" lengthAdjust="spacingAndGlyphs">クロゼット</text>
  <text stroke-width="0.08" x="251" y="29" font-size="6.5" textLength="13" lengthAdjust="spacingAndGlyphs">支柱</text>
  <text stroke-width="0.08" x="287.3" y="99.6" font-size="6" textLength="40" lengthAdjust="spacingAndGlyphs">ハンガーパイプ</text>
  <text x="361.4" y="105" font-size="7" textLength="40" lengthAdjust="spacingAndGlyphs">シューズイン</text>
  <text x="361.5" y="116.3" font-size="7" textLength="32.5" lengthAdjust="spacingAndGlyphs">クロゼット</text>
  <text stroke-width="0.08" x="364" y="138.4" font-size="5.8" textLength="34" lengthAdjust="spacingAndGlyphs">可動棚(6枚)</text>
  <text stroke-width="0.08" x="354.8" y="148.8" font-size="5.8" textLength="54.4" lengthAdjust="spacingAndGlyphs">上部固定棚(1枚)</text>
  <text stroke-width="0.08" x="327.2" y="250.3" font-size="6.5" textLength="12.5" lengthAdjust="spacingAndGlyphs">物入</text>
  <text stroke-width="0.08" x="327.3" y="257.3" font-size="4.2" textLength="27.8" lengthAdjust="spacingAndGlyphs">(システム収納)</text>
  <text stroke-width="0.25" x="435.5" y="290.7" font-size="5.6" textLength="27" lengthAdjust="spacingAndGlyphs">洗濯機置場</text>
  <text stroke-width="0.08" x="371.8" y="302.7" font-size="6.3" textLength="23.6" lengthAdjust="spacingAndGlyphs">リネン庫</text>
  <text stroke-width="0.08" x="372" y="310.8" font-size="4.5" textLength="26" lengthAdjust="spacingAndGlyphs">(システム収納)</text>
  <text stroke-width="0.08" x="431.5" y="320.7" font-size="5.5" textLength="22.9" lengthAdjust="spacingAndGlyphs">カウンター</text>
  <text stroke-width="0.08" x="432.7" y="326.1" font-size="5.5" textLength="26.6" lengthAdjust="spacingAndGlyphs">(下部収納)</text>
  <text stroke-width="0.08" x="433" y="332" font-size="5.5" textLength="28.7" lengthAdjust="spacingAndGlyphs">可動棚(2枚)</text>
  <text x="433" y="356.4" font-size="7.5" textLength="24" lengthAdjust="spacingAndGlyphs" fill="#555" stroke="#555" stroke-width="0.08">冷蔵庫</text>
  <text x="433" y="364.4" font-size="7.5" textLength="24" lengthAdjust="spacingAndGlyphs" fill="#555" stroke="#555" stroke-width="0.08">置　場</text>
  <text x="157.5" y="511.2" font-size="7" textLength="37" lengthAdjust="spacingAndGlyphs">ウォークイン</text>
  <text x="157.5" y="519.3" font-size="7" textLength="32.7" lengthAdjust="spacingAndGlyphs">クロゼット</text>
  <text x="230" y="491.6" font-size="7" textLength="40" lengthAdjust="spacingAndGlyphs">ウォークイン</text>
  <text x="230" y="500.8" font-size="7" textLength="34" lengthAdjust="spacingAndGlyphs">クロゼット</text>
  <text x="308.3" y="674.7" font-size="7" textLength="43" lengthAdjust="spacingAndGlyphs" stroke-width="0.1">室内物干金物</text>
  <text x="201.3" y="743.8" font-size="10" textLength="35.4" lengthAdjust="spacingAndGlyphs" fill="#444" stroke="#444">下部FIX</text>
  <text x="437.9" y="99" font-size="8" textLength="13" lengthAdjust="spacingAndGlyphs" fill="#555" stroke="none">MB</text>
  <text x="501.3" y="99" font-size="8" textLength="30.6" lengthAdjust="spacingAndGlyphs" fill="#555" stroke="none">隣戸MB</text>
  <text x="355.3" y="254.5" font-size="7" textLength="10" lengthAdjust="spacingAndGlyphs" fill="#777" stroke="#777">PS</text>
  <text x="189.6" y="509.9" font-size="7" textLength="10" lengthAdjust="spacingAndGlyphs" fill="#777" stroke="#777">PS</text>
  <text x="445.5" y="476" font-size="7" textLength="11" lengthAdjust="spacingAndGlyphs" fill="#777" stroke="#777">PS</text>
  <text stroke-width="0.08" x="117.1" y="805.3" font-size="6.5" fill="#222" font-weight="bold">N</text>
</g>

</svg>
</body>
</html>
